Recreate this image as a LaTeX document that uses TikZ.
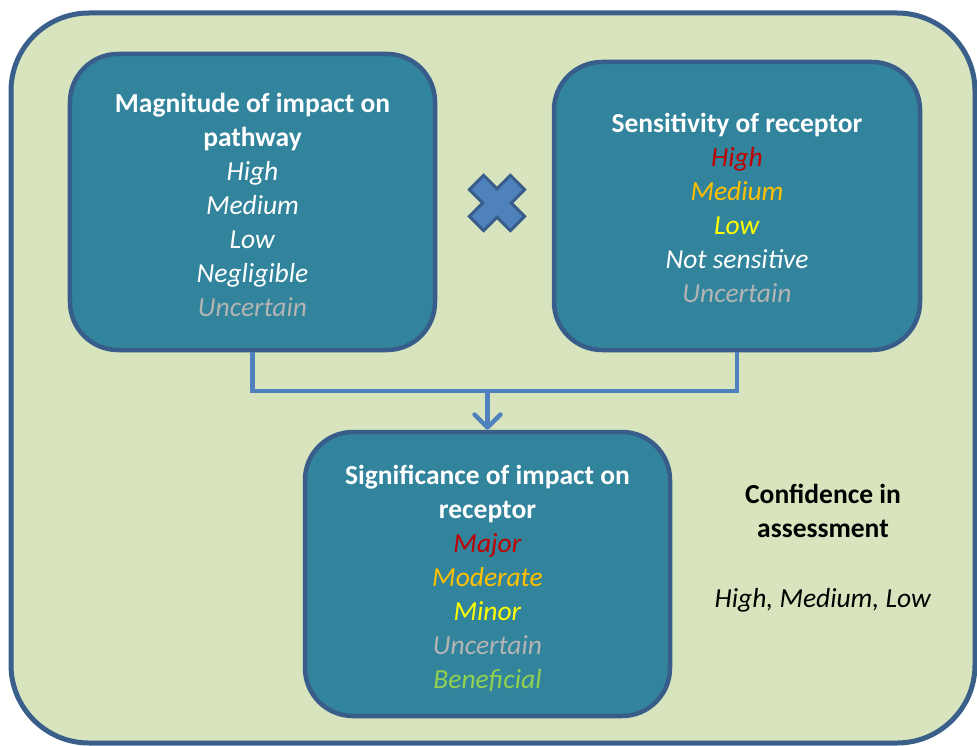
\documentclass[tikz,border=0pt]{standalone}
\usepackage{fontspec}
\setmainfont{Carlito}
\usetikzlibrary{arrows.meta}
\definecolor{bg}{HTML}{D7E4BD}
\definecolor{bgline}{HTML}{3A5F8B}
\definecolor{boxfill}{HTML}{31849B}
\definecolor{boxline}{HTML}{385D8A}
\definecolor{conn}{HTML}{4F81BD}
\definecolor{cred}{HTML}{C00000}
\definecolor{corange}{HTML}{FFC000}
\definecolor{cyellow}{HTML}{FFFF00}
\definecolor{cgrey}{HTML}{B4B4B4}
\definecolor{cgreen}{HTML}{92D050}
\begin{document}
\begin{tikzpicture}[x=1bp,y=-1bp,
  panel/.style={draw=boxline, line width=4.5bp, fill=boxfill, rounded corners=48bp, inner sep=0pt},
  paneltext/.style={align=center, text=white, font=\fontsize{27.5bp}{34bp}\selectfont, inner sep=0pt},
  plain/.style={align=center, text=black, font=\fontsize{27.5bp}{34bp}\selectfont, inner sep=0pt},
  link/.style={draw=conn, line width=4.5bp},
  crossmark/.style={fill=conn, draw=boxline, line width=3bp, line join=miter}]
\useasboundingbox (0,0) rectangle (977,746);
\path[fill=bg, draw=bgline, line width=5bp, rounded corners=78bp] (11,13) rectangle (975,743);

\node[panel, minimum width=365bp, minimum height=296bp] (mag) at (252.5,202) {};
\node[paneltext] (magtext) at (252.5,204.5)
  {{\bfseries Magnitude of impact on}\\{\bfseries pathway}\\\textit{High}\\\textit{Medium}\\\textit{Low}\\\textit{Negligible}\\\textcolor{cgrey}{\textit{Uncertain}}};

\node[panel, minimum width=366bp, minimum height=288bp] (sens) at (737,206) {};
\node[paneltext] (senstext) at (737,208)
  {{\bfseries Sensitivity of receptor}\\\textcolor{cred}{\textit{High}}\\\textcolor{corange}{\textit{Medium}}\\\textcolor{cyellow}{\textit{Low}}\\\textit{Not sensitive}\\\textcolor{cgrey}{\textit{Uncertain}}};

\node[panel, minimum width=365bp, minimum height=284bp] (sig) at (487.5,574) {};
\node[paneltext] (sigtext) at (487.5,578.5)
  {{\bfseries Significance of impact on}\\{\bfseries receptor}\\\textcolor{cred}{\textit{Major}}\\\textcolor{corange}{\textit{Moderate}}\\\textcolor{cyellow}{\textit{Minor}}\\\textcolor{cgrey}{\textit{Uncertain}}\\\textcolor{cgreen}{\textit{Beneficial}}};

\node[plain] (conf) at (823,511) {{\bfseries Confidence in}\\{\bfseries assessment}};
\node[plain] (conflev) at (823,600.5) {\textit{High, Medium, Low}};

\coordinate (j) at (487.5,391);
\draw[link] (mag.south) |- (j) -| (sens.south);
\draw[link, -{Straight Barb[round,length=13bp,width=26bp,line width=4.5bp]}] (j) -- (sig.north);

\begin{scope}[shift={(497,203)}, rotate=45]
\draw[crossmark] (10,29) -- (10,10) -- (29,10) -- (29,-10) -- (10,-10) -- (10,-29)
  -- (-10,-29) -- (-10,-10) -- (-29,-10) -- (-29,10) -- (-10,10) -- (-10,29) -- cycle;
\end{scope}
\end{tikzpicture}
\end{document}
